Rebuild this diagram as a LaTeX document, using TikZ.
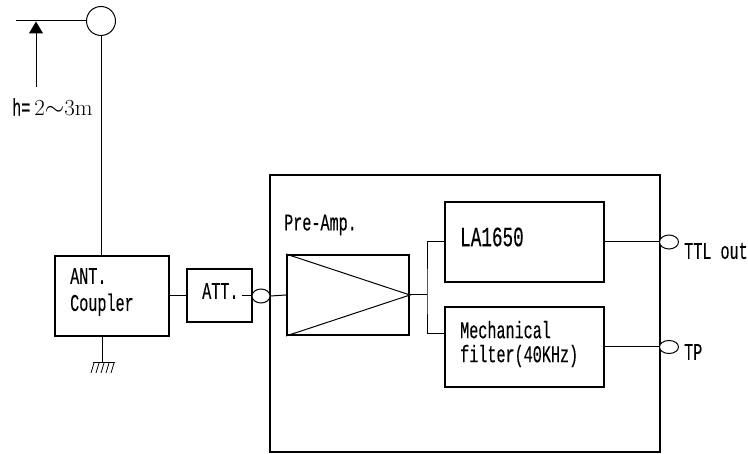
\documentclass[tikz,border=0pt]{standalone}
\usepackage{fontspec}
\newfontfamily\gothic[FakeStretch=0.63,FakeBold=0.25]{Liberation Mono}
\usetikzlibrary{arrows.meta,positioning,shapes.geometric}

\begin{document}
\begin{tikzpicture}[x=1pt,y=-1pt,
    block/.style={draw, line width=2pt, inner sep=0pt},
    port/.style={draw, ellipse, line width=1pt, fill=white, inner sep=0pt, minimum width=18pt, minimum height=14pt},
    wire/.style={line width=1pt},
    lbl/.style={font=\gothic\fontsize{24}{24}\selectfont, anchor=west, align=left, inner sep=0pt}]
  \useasboundingbox (0,0) rectangle (748,454);

  % Antenna and its height
  \node[draw, circle, line width=1pt, minimum size=29pt, inner sep=0pt] (antenna) at (101,21) {};
  \coordinate (hlevel) at (16,21);
  \coordinate (harrow) at (36,21.5);
  \coordinate (hfoot) at (36,87);
  \draw[wire] (antenna.west) -- (hlevel);
  \draw[wire, -{Triangle[length=12pt,width=14pt]}] (hfoot) -- (harrow);
  \node[lbl] (hlabel) at (12,107) {h=\,\rmfamily\fontsize{23}{24}\selectfont 2$\sim$3m};

  % Blocks
  \node[block, minimum width=114pt, minimum height=80pt] (coupler) at (111.5,296) {};
  \node[block, minimum width=65pt, minimum height=53pt] (att) at (219.5,295.5) {};
  \node[block, minimum width=390pt, minimum height=277pt] (mainbox) at (465,314) {};
  \node[block, minimum width=122pt, minimum height=80pt] (preamp) at (348,295) {};
  \node[block, minimum width=159pt, minimum height=80pt] (la) at (524.5,242) {};
  \node[block, minimum width=159pt, minimum height=80pt] (mech) at (524.5,347) {};

  % Ports
  \node[port] (attport) at (261,296) {};
  \node[port, minimum width=19pt] (ttlport) at (669,242) {};
  \node[port, minimum width=19pt, minimum height=13pt] (tpport) at (669,347) {};

  % Labels
  \node[lbl] (couplerlabel) at (70,292) {ANT.\\[3pt]Coupler};
  \node[lbl] (attlabel) at (202,291) {ATT.};
  \node[lbl] (prelabel) at (284,225) {Pre-Amp.};
  \node[lbl, font=\gothic\fontsize{28}{30}\selectfont] (lalabel) at (460,237) {LA1650};
  \node[lbl] (mechlabel) at (460,344) {Mechanical\\filter(40KHz)};
  \node[lbl] (ttllabel) at (684,251) {TTL out};
  \node[lbl] (tplabel) at (684,352) {TP};

  % Wiring
  \coordinate (attout) at (242,296);
  \coordinate (junction) at (427,295);
  \coordinate (mechin) at (445,334);
  \draw[wire] (antenna.south) -- (antenna.south |- coupler.north);
  \draw[wire] (coupler.east |- att.west) -- (att.west);
  \draw[wire] (attout) -- (attport.west);
  \draw[wire] (attport.east) -- (preamp.west);
  \draw[wire] (preamp.north west) -- (preamp.east) -- (preamp.south west);
  \draw[wire] (preamp.east) -- (junction);
  \draw[wire] (la.west) -| (junction) |- (mechin);
  \draw[wire] (la.east) -- (ttlport.west);
  \draw[wire] (mech.east) -- (tpport.west);

  % Earth
  \coordinate (earth) at (102,363);
  \draw[wire] (coupler.south -| earth) -- (earth);
  \draw[wire] (93,363) -- (115,363);
  \foreach \x in {94,99,104,109,114}
    \draw[line width=0.8pt] (\x,363) -- (\x-3,373);
\end{tikzpicture}
\end{document}
